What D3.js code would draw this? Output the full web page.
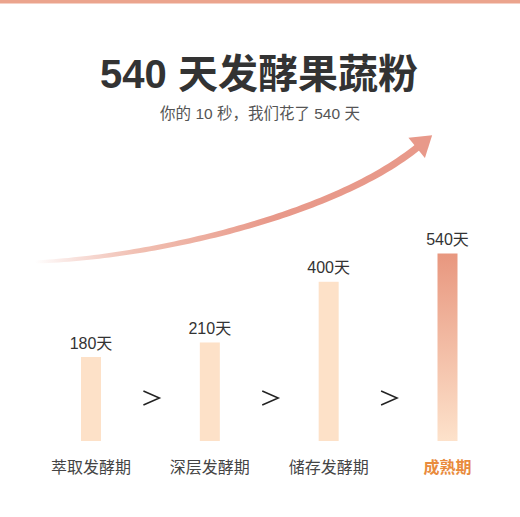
<!DOCTYPE html>
<html><head><meta charset="utf-8">
<script src="https://cdn.jsdelivr.net/npm/d3@7"></script>
<style>
html,body{margin:0;padding:0;background:#fff;}
svg{display:block;font-family:"Liberation Sans","Noto Sans CJK SC",sans-serif;}
</style></head>
<body>
<svg id="c" width="520" height="517"></svg>
<script>
const title = "540 天发酵果蔬粉";
const subtitle = "你的 10 秒，我们花了 540 天";
const categories = ["萃取发酵期", "深层发酵期", "储存发酵期", "成熟期"];
const days = [180, 210, 400, 540];
const unit = "天";

const W = 520, H = 517;
const svg = d3.select("#c");
const defs = svg.append("defs");

// top band
svg.append("rect").attr("x",0).attr("y",0).attr("width",W).attr("height",3.5).attr("fill","#eba48d");

svg.append("text").attr("x",259).attr("y",87.5).attr("text-anchor","middle")
  .attr("font-size",40).attr("font-weight",700).attr("fill","#333").text(title);
svg.append("text").attr("x",260).attr("y",119).attr("text-anchor","middle")
  .attr("font-size",15.5).attr("fill","#555").text(subtitle);

// scales
const x = d3.scalePoint().domain(categories).range([91, 447.5]);
const baseline = 441;
const y = d3.scaleLog().domain([180, 540]).range([357, 253.5]);
const bw = 20;

// gradients
const g4 = defs.append("linearGradient").attr("id","g4").attr("x1",0).attr("y1",0).attr("x2",0).attr("y2",1);
g4.append("stop").attr("offset",0).attr("stop-color","#e8977f");
g4.append("stop").attr("offset",1).attr("stop-color","#fde2cb");

const ga = defs.append("linearGradient").attr("id","ga").attr("gradientUnits","userSpaceOnUse")
  .attr("x1",35).attr("y1",0).attr("x2",270).attr("y2",0);
ga.append("stop").attr("offset",0).attr("stop-color","#e8998a").attr("stop-opacity",0);
ga.append("stop").attr("offset",0.45).attr("stop-color","#eeb3a3").attr("stop-opacity",0.85);
ga.append("stop").attr("offset",1).attr("stop-color","#e8998a").attr("stop-opacity",1);

// bars
svg.selectAll(".bar").data(days).enter().append("rect")
  .attr("x",(d,i)=>x(categories[i])-bw/2)
  .attr("y",d=>y(d))
  .attr("width",bw)
  .attr("height",d=>baseline-y(d))
  .attr("fill",(d,i)=> i===days.length-1 ? "url(#g4)" : "#fde1c8");

// value labels
svg.selectAll(".vl").data(days).enter().append("text")
  .attr("x",(d,i)=>x(categories[i]))
  .attr("y",d=>y(d)-8.5)
  .attr("text-anchor","middle").attr("font-size",16).attr("fill","#333")
  .text(d=>d+unit);

// category labels
svg.selectAll(".cl").data(categories).enter().append("text")
  .attr("x",d=>x(d)).attr("y",473)
  .attr("text-anchor","middle").attr("font-size",16)
  .attr("font-weight",(d,i)=> i===categories.length-1 ? 700 : 400)
  .attr("fill",(d,i)=> i===categories.length-1 ? "#e98b3d" : "#444")
  .text(d=>d);

// ">" separators
for (let i=0;i<categories.length-1;i++){
  const cx = (x(categories[i])+x(categories[i+1]))/2 + 1;
  const cy = 398;
  svg.append("path")
    .attr("d",`M${cx-8},${cy-7} L${cx+8},${cy} L${cx-8},${cy+7}`)
    .attr("fill","none").attr("stroke","#222").attr("stroke-width",1.5)
    .attr("stroke-linejoin","miter");
}

// growth arrow (tapered shaft)
const guide = svg.append("path").attr("d","M33,262 C150,258 334,216 419,146")
  .attr("fill","none").attr("stroke","none");
const node = guide.node();
const L = node.getTotalLength();
const N = 80;
const left = [], right = [];
for (let k=0;k<=N;k++){
  const s = L*k/N;
  const p = node.getPointAtLength(s);
  const q = node.getPointAtLength(Math.min(L, s+0.5));
  const p0 = node.getPointAtLength(Math.max(0, s-0.5));
  let dx = q.x-p0.x, dy = q.y-p0.y; const m = Math.hypot(dx,dy)||1; dx/=m; dy/=m;
  const w = 1.2 + 2.4*Math.pow(k/N,0.5);
  left.push([p.x - dy*w, p.y + dx*w]);
  right.push([p.x + dy*w, p.y - dx*w]);
}
const shape = left.concat(right.reverse());
svg.append("path").attr("d","M"+shape.map(p=>p.join(",")).join("L")+"Z").attr("fill","url(#ga)");

// arrow head
const E = node.getPointAtLength(L);
const Ep = node.getPointAtLength(L-1);
let ux = E.x-Ep.x, uy = E.y-Ep.y; const um = Math.hypot(ux,uy); ux/=um; uy/=um;
const headLen = 20, headHalf = 13, back = 3;
const bx = E.x - ux*back, by = E.y - uy*back;
const tip = [bx+ux*headLen, by+uy*headLen];
const c1 = [bx - uy*headHalf, by + ux*headHalf];
const c2 = [bx + uy*headHalf, by - ux*headHalf];
svg.append("path").attr("d",`M${tip}L${c1}L${c2}Z`).attr("fill","#e8998a");
</script>
</body></html>
